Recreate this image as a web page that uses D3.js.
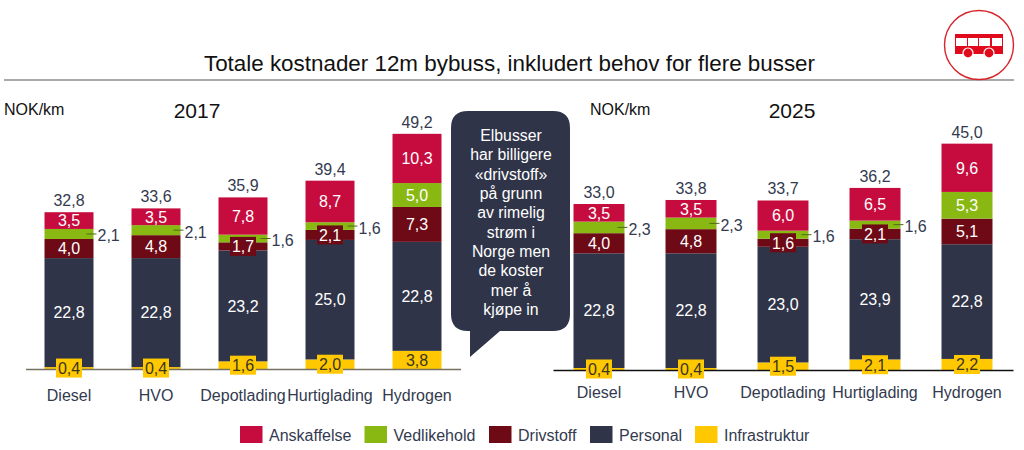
<!DOCTYPE html>
<html>
<head>
<meta charset="utf-8">
<script src="https://cdn.jsdelivr.net/npm/d3@7"></script>
<style>
body { margin: 0; background: #fff; }
text { font-family: "Liberation Sans", Arial, sans-serif; }
</style>
</head>
<body>
<script>
const categories = ["Diesel", "HVO", "Depotlading", "Hurtiglading", "Hydrogen"];
const seriesNames = ["Infrastruktur", "Personal", "Drivstoff", "Vedlikehold", "Anskaffelse"];
const legendOrder = ["Anskaffelse", "Vedlikehold", "Drivstoff", "Personal", "Infrastruktur"];
const colors = ["#ffc800", "#2f3448", "#6e0a16", "#8ab813", "#c60c3e"];

const infra2017 = [0.4, 0.4, 1.6, 2.0, 3.8];
const personal2017 = [22.8, 22.8, 23.2, 25.0, 22.8];
const drivstoff2017 = [4.0, 4.8, 1.7, 2.1, 7.3];
const vedlikehold2017 = [2.1, 2.1, 1.6, 1.6, 5.0];
const anskaffelse2017 = [3.5, 3.5, 7.8, 8.7, 10.3];
const totals2017 = [32.8, 33.6, 35.9, 39.4, 49.2];

const infra2025 = [0.4, 0.4, 1.5, 2.1, 2.2];
const personal2025 = [22.8, 22.8, 23.0, 23.9, 22.8];
const drivstoff2025 = [4.0, 4.8, 1.6, 2.1, 5.1];
const vedlikehold2025 = [2.3, 2.3, 1.6, 1.6, 5.3];
const anskaffelse2025 = [3.5, 3.5, 6.0, 6.5, 9.6];
const totals2025 = [33.0, 33.8, 33.7, 36.2, 45.0];

const calloutLines = ["Elbusser", "har billigere", "«drivstoff»", "på grunn", "av rimelig", "strøm i", "Norge men", "de koster", "mer å", "kjøpe in"];

const textColor = "#333a4f";
const fmt = v => v.toFixed(1).replace(".", ",");

const svg = d3.select("body").append("svg")
    .attr("width", 1024)
    .attr("height", 450)
    .style("display", "block");

// title and rule
svg.append("text").attr("x", 509.5).attr("y", 70.5).attr("text-anchor", "middle")
    .style("font-size", "22.4px").style("fill", "#111").text("Totale kostnader 12m bybuss, inkludert behov for flere busser");
svg.append("line").attr("x1", 4).attr("x2", 1014).attr("y1", 80).attr("y2", 80)
    .style("stroke", "#555").style("stroke-width", 1.2);

// draws one year panel
function panel(cfg) {
    const table = categories.map((c, i) => ({
        category: c,
        Infrastruktur: cfg.values[0][i],
        Personal: cfg.values[1][i],
        Drivstoff: cfg.values[2][i],
        Vedlikehold: cfg.values[3][i],
        Anskaffelse: cfg.values[4][i],
        total: cfg.totals[i]
    }));
    const x = d3.scaleBand().domain(categories).range(cfg.xRange)
        .paddingInner(cfg.inner).paddingOuter(cfg.inner / 2);
    const y = d3.scaleLinear().domain([0, 50]).range([cfg.base, cfg.base - 50 * cfg.pxPerUnit]);
    const stack = d3.stack().keys(seriesNames)(table);
    const g = svg.append("g");

    const layers = g.selectAll(".layer").data(stack).enter().append("g")
        .attr("class", "layer")
        .style("fill", (d, i) => colors[i]);
    layers.selectAll("rect").data(d => d).enter().append("rect")
        .attr("x", d => x(d.data.category))
        .attr("width", x.bandwidth())
        .attr("y", d => y(d[1]))
        .attr("height", d => y(d[0]) - y(d[1]));

    const axis = d3.axisBottom(x).tickSize(0).tickPadding(cfg.tickPad);
    const ax = g.append("g").attr("transform", "translate(0," + cfg.base + ")").call(axis);
    ax.select(".domain").style("stroke", cfg.baseColor).style("stroke-width", 1.4);
    ax.selectAll("text").style("font-size", "16px").style("fill", textColor)
        .style("font-family", "'Liberation Sans', Arial, sans-serif");

    // segment labels
    stack.forEach((layer, si) => {
        layer.forEach(d => {
            const val = d[1] - d[0];
            const cx = x(d.data.category) + x.bandwidth() / 2;
            const cy = (y(d[0]) + y(d[1])) / 2;
            if (layer.key === "Vedlikehold" && val < 3) {
                const right = x(d.data.category) + x.bandwidth();
                g.append("line").attr("x1", right - 7).attr("x2", right + 3)
                    .attr("y1", cy).attr("y2", cy)
                    .style("stroke", "#4f6b1a").style("stroke-width", 1);
                g.append("text").attr("x", right + 4).attr("y", cy + 7.5)
                    .style("font-size", "16px").style("fill", textColor).text(fmt(val));
                return;
            }
            const infra = layer.key === "Infrastruktur";
            if (val < 3) {
                g.append("rect").attr("x", cx - 13).attr("width", 26)
                    .attr("y", cy - 9.5).attr("height", 19)
                    .style("fill", colors[si]);
            }
            g.append("text").attr("x", cx)
                .attr("y", cy + 5.8)
                .attr("text-anchor", "middle")
                .style("font-size", "16px")
                .style("fill", infra ? "#3a3520" : "#fff")
                .text(fmt(val));
        });
    });

    // totals on top of the stacks
    g.selectAll(".total").data(table).enter().append("text")
        .attr("class", "total")
        .attr("x", d => x(d.category) + x.bandwidth() / 2)
        .attr("y", d => y(d.Infrastruktur + d.Personal + d.Drivstoff + d.Vedlikehold + d.Anskaffelse) - 6)
        .attr("text-anchor", "middle")
        .style("font-size", "16px").style("fill", textColor)
        .text(d => fmt(d.total));

    g.append("text").attr("x", cfg.unitX).attr("y", 114.5)
        .style("font-size", "16px").style("fill", "#111").text("NOK/km");
    g.append("text").attr("x", cfg.yearX).attr("y", 117.5).attr("text-anchor", "middle")
        .style("font-size", "21px").style("fill", "#111").text(cfg.year);
}

panel({
    year: "2017", yearX: 197, unitX: 4, tickPad: 21,
    values: [infra2017, personal2017, drivstoff2017, vedlikehold2017, anskaffelse2017],
    totals: totals2017,
    xRange: [25.5, 460.5], inner: 0.437, base: 369, pxPerUnit: 4.78, baseColor: "#77705f"
});
panel({
    year: "2025", yearX: 792, unitX: 590, tickPad: 17,
    values: [infra2025, personal2025, drivstoff2025, vedlikehold2025, anskaffelse2025],
    totals: totals2025,
    xRange: [553, 1013], inner: 0.446, base: 370, pxPerUnit: 5.03, baseColor: "#111"
});

// callout
svg.append("path")
    .attr("d", "M468,111 H553 Q570,111 570,128 V314 Q570,331 553,331 H500 L470,357 V331 H468 Q451,331 451,314 V128 Q451,111 468,111 Z")
    .style("fill", "#2f3448");
svg.append("g").selectAll("text").data(calloutLines).enter().append("text")
    .attr("x", 511)
    .attr("y", (d, i) => 141 + i * 19.35)
    .attr("text-anchor", "middle")
    .style("font-size", "15.8px").style("fill", "#fff")
    .text(d => d);

// legend
const legendSwatchX = d3.scaleOrdinal().domain(legendOrder).range([240, 364.5, 489, 590, 695]);
const legend = svg.append("g").selectAll("g").data(legendOrder).enter().append("g")
    .attr("transform", d => "translate(" + legendSwatchX(d) + ",426)");
legend.append("rect").attr("width", 22.5).attr("height", 17)
    .style("fill", d => colors[seriesNames.indexOf(d)]);
legend.append("text").attr("x", 29).attr("y", 14.5)
    .style("font-size", "16px").style("fill", textColor).text(d => d);

// bus icon
const icon = svg.append("g").attr("transform", "translate(979,45)");
icon.append("circle").attr("r", 34.5).style("fill", "#fff").style("stroke", "#d8232a").style("stroke-width", 1.4);
icon.append("path")
    .attr("fill-rule", "evenodd")
    .attr("d", "M-24,-11 H24 V9 H-24 Z M-23,-7 V1 H-12 V-7 Z M-11,-7 V1 H-1 V-7 Z M0,-7 V1 H11 V-7 Z M13,-7 V1 H23 V-7 Z")
    .style("fill", "#e00a1c");
icon.append("circle").attr("cx", -11).attr("cy", 8).attr("r", 5).style("fill", "#e00a1c").style("stroke", "#fff").style("stroke-width", 1.2);
icon.append("circle").attr("cx", 10).attr("cy", 8).attr("r", 5).style("fill", "#e00a1c").style("stroke", "#fff").style("stroke-width", 1.2);
</script>
</body>
</html>
